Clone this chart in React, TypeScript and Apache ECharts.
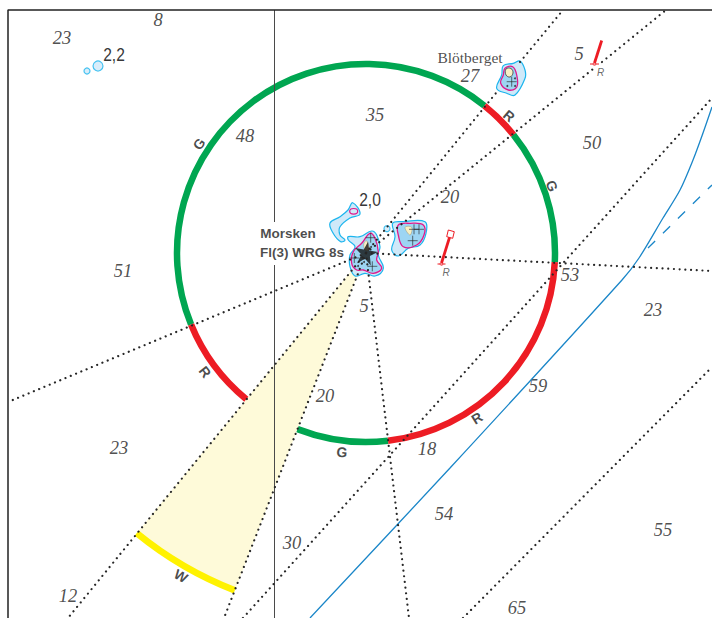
import React, { useEffect, useRef } from "react";
import * as echarts from "echarts";

type P = [number, number];

// chart extent and light position (map units are the page's pixels)
const MAP_W = 712;
const MAP_H = 618;
const LIGHT: P = [366, 253];
const RING_R = 189;
const WHITE_R = 362;

// light sectors: [start bearing, end bearing] in degrees
const greenSectors: P[] = [[157.75, 308.8], [321.25, 362.75], [83.3, 111.25]];
const redSectors: P[] = [[308.8, 321.25], [2.75, 83.3], [129.3, 157.75]];
const whiteSector: P = [111.25, 129.3];

// dotted sector limits and leading lines
const dottedLines: P[][] = [
  [LIGHT, [496, 93]],
  [[520, 62], [563, 10]],
  [LIGHT, [593, 69]],
  [[602, 62], [666, 10]],
  [LIGHT, [712, 271]],
  [LIGHT, [8, 402]],
  [LIGHT, [68, 618]],
  [LIGHT, [224, 618]],
  [LIGHT, [409, 618]],
  [[243, 618], [712, 98]],
  [[463, 618], [712, 367]],
];

const frameLines: P[][] = [
  [[712, 10], [8, 10], [8, 618]],
];
const gridLines: P[][] = [
  [[274.5, 10], [274.5, 222]],
  [[274.5, 265], [274.5, 618]],
];

const depthContour: P[] = [[310, 618], [450, 468], [622, 280], [639, 258], [663, 218], [680, 190], [693, 160], [703, 133], [712, 107]];
const dashedContour: P[] = [[648, 248], [712, 185]];

// islands
const shoalNorth: P[] = [[352.7, 202.7], [360, 214], [350, 218], [340, 226.7], [340, 235], [345, 240], [340.7, 241.7], [333, 233], [330, 223], [340, 216.7], [348, 210]];
const morskenOuter: P[] = [[348.3, 236.7], [360, 236.7], [371.7, 231], [376.7, 235], [380, 246.7], [378.3, 255], [383.3, 268.3], [375, 276], [365, 273.3], [355, 276], [350, 266.7], [350, 255], [355, 246.7], [348.3, 240]];
const morskenInner: P[] = [[353.3, 251.7], [361.7, 243.3], [370, 233.3], [375, 238.3], [378.3, 251.7], [376.7, 260], [381.7, 268.3], [373.3, 273.3], [363.3, 270], [356.7, 270], [351.7, 263.3]];
const eastOuter: P[] = [[392.7, 223.3], [403.3, 221.7], [425, 221.7], [426, 233.3], [420, 245], [408.3, 248.3], [398.3, 256], [391.7, 250], [395, 236.7]];
const eastInner: P[] = [[398.3, 225], [410, 223.3], [423.3, 225], [424, 235], [416.7, 245], [403.3, 246.7], [398.3, 235]];
const eastRock: P[] = [[405, 227.3], [411.7, 227.3], [410, 235]];
const morskenRock: P[] = [[364, 243], [367, 241], [369, 250], [365, 250]];
const blotOuter: P[] = [[520, 61], [525, 70], [525, 78.3], [515, 95], [506.7, 93.3], [496.7, 88.3], [501.7, 75], [503.3, 65.7], [513.3, 63.3]];
const blotInner: P[] = [[505, 68.3], [512.7, 66.7], [516.7, 75], [516.7, 87.3], [508.3, 90], [500.7, 83.3], [503.3, 75]];
const blotRock: P[] = [[506, 69], [511, 68.5], [513, 73], [510, 77], [506, 75]];

const smallShoals: [number, number, number][] = [[98, 66, 10], [87, 71, 6], [387, 228.7, 6]];
const pinkEllipse: P = [353.7, 211.3];
const rockDots: P[] = [[507.3, 86], [515, 86], [515, 78.3], [371, 247], [358, 266], [364, 262]];
const crosses: P[] = [[370.7, 237.7], [354.3, 258], [372.3, 266.3], [414, 229.3], [419, 229.3], [412.7, 240.7], [511.7, 81.7]];

// beacons
const beaconSticks: P[][] = [[[449.5, 237.5], [441.5, 263]], [[601.7, 40.5], [594.5, 63]]];
const beaconBases: P[][] = [[[437.5, 264], [445.5, 264]], [[590, 64], [599, 64]]];
const beaconFeet: P[] = [[441.5, 264], [594.5, 64]];
const beaconTop: P[] = [[448.3, 230], [454.3, 231.7], [452.7, 238.3], [446.7, 236.7]];

// texts
const soundings: [number, number, string][] = [
  [62, 38, "23"], [158, 20, "8"], [245, 136, "48"], [375, 115, "35"], [470, 76, "27"],
  [579, 54, "5"], [592, 143, "50"], [450, 197, "20"], [123, 271, "51"], [570, 275, "53"],
  [364, 306, "5"], [653, 310, "23"], [325, 396, "20"], [538, 386, "59"], [119, 448, "23"],
  [427, 449, "18"], [444, 514, "54"], [663, 530, "55"], [292, 543, "30"], [68, 596, "12"],
  [517, 608, "65"],
];
const drying: [number, number, string][] = [[114, 54, "2,2"], [370, 199, "2,0"]];
const lightLabel: [number, number, string][] = [[288, 233, "Morsken"], [302, 252, "Fl(3) WRG 8s"]];
const placeName: [number, number, string][] = [[470, 57, "Blötberget"]];
const beaconLetters: [number, number, string][] = [[446, 272, "R"], [600.5, 72, "R"]];
const sectorLetters: [number, number, string, number][] = [
  [199, 144, "G", 55], [509, 116, "R", -40], [552, 186, "G", -68], [205, 372, "R", -52],
  [477, 418, "R", 32], [342, 452, "G", -6], [181, 576, "W", -30],
];

const RED = "#ed1c24";
const GREEN = "#00a651";
const YELLOW = "#fff200";
const CYAN = "#1cb5ee";
const PALE = "#cfe9f9";
const MID = "#9dd5f3";
const PINK = "#e0188c";
const ROCK = "#f8f0c4";
const INK = "#262626";
const CONTOUR = "#1a86c8";
const SERIF = "'Liberation Serif', serif";
const SANS = "'Liberation Sans', sans-serif";

const rad = (d: number) => (d * Math.PI) / 180;

const arcSeries = (s: P, color: string, r: number, width: number) => ({
  type: "custom",
  coordinateSystem: "cartesian2d",
  silent: true,
  data: [LIGHT],
  renderItem: (_: any, api: any) => {
    const c = api.coord(LIGHT);
    return {
      type: "arc",
      shape: { cx: c[0], cy: c[1], r: api.size([r, 0])[0], startAngle: rad(s[0]), endAngle: rad(s[1]), clockwise: true },
      style: { stroke: color, lineWidth: width, fill: "none" },
    };
  },
});

const wedgeSeries = (s: P, color: string, r: number) => ({
  type: "custom",
  coordinateSystem: "cartesian2d",
  silent: true,
  data: [LIGHT],
  renderItem: (_: any, api: any) => {
    const c = api.coord(LIGHT);
    return {
      type: "sector",
      shape: { cx: c[0], cy: c[1], r0: 0, r: api.size([r, 0])[0], startAngle: rad(s[0]), endAngle: rad(s[1]), clockwise: true },
      style: { fill: color },
    };
  },
});

const polySeries = (pts: P[], fill: string, stroke: string, width: number, smooth = 0.4) => ({
  type: "custom",
  coordinateSystem: "cartesian2d",
  silent: true,
  data: [pts[0]],
  renderItem: (_: any, api: any) => ({
    type: "polygon",
    shape: { points: pts.map((q) => api.coord(q)), smooth },
    style: { fill, stroke, lineWidth: width },
  }),
});

const ellipseSeries = (c: P, rx: number, ry: number, fill: string, stroke: string, width: number) => ({
  type: "custom",
  coordinateSystem: "cartesian2d",
  silent: true,
  data: [c],
  renderItem: (_: any, api: any) => {
    const p = api.coord(c);
    return {
      type: "ellipse",
      shape: { cx: p[0], cy: p[1], rx, ry },
      style: { fill, stroke, lineWidth: width },
    };
  },
});

const lineSeries = (pts: P[], color: string, width: number, type: any = "solid", cap = "butt", smooth: any = false) => ({
  type: "line",
  data: pts,
  silent: true,
  symbol: "none",
  smooth,
  lineStyle: { color, width, type, cap },
});

const textSeries = (items: any[], font: any) => ({
  type: "scatter",
  silent: true,
  symbol: "circle",
  symbolSize: 1,
  itemStyle: { color: "rgba(0,0,0,0)" },
  data: items.map((d) => ({
    value: [d[0], d[1]],
    label: { formatter: d[2], rotate: d[3] ?? 0 },
  })),
  label: { show: true, position: "inside", align: "center", verticalAlign: "middle", ...font },
});

// condensed sans figures for the drying heights
const narrowTextSeries = (items: [number, number, string][]) => ({
  type: "custom",
  coordinateSystem: "cartesian2d",
  silent: true,
  data: items.map((d) => [d[0], d[1]]),
  renderItem: (params: any, api: any) => {
    const d = items[params.dataIndex];
    const p = api.coord([d[0], d[1]]);
    return {
      type: "text",
      x: p[0],
      y: p[1],
      scaleX: 0.82,
      style: { text: d[2], fontFamily: SANS, fontSize: 19, fill: "#383838", align: "center", verticalAlign: "middle" },
    };
  },
});

export default function App() {
  const ref = useRef<HTMLDivElement>(null);
  useEffect(() => {
    const chart = echarts.init(ref.current!, undefined, { renderer: "svg" });
    const series: any[] = [
      wedgeSeries(whiteSector, "#fefad9", WHITE_R),
      ...gridLines.map((l) => lineSeries(l, "#4a4a4a", 1)),
      lineSeries(depthContour, CONTOUR, 1.3, "solid", "butt", 0.3),
      lineSeries(dashedContour, CONTOUR, 1.3, [10, 11]),
      arcSeries(whiteSector, YELLOW, WHITE_R, 6.5),
      ...greenSectors.map((s) => arcSeries(s, GREEN, RING_R, 6.5)),
      ...redSectors.map((s) => arcSeries(s, RED, RING_R, 6.5)),
      polySeries(shoalNorth, PALE, CYAN, 1.2),
      ellipseSeries(pinkEllipse, 4, 2.8, PALE, PINK, 1.2),
      polySeries(morskenOuter, PALE, CYAN, 1.2),
      polySeries(morskenInner, MID, PINK, 1.3),
      polySeries(eastOuter, PALE, CYAN, 1.2),
      polySeries(eastInner, MID, PINK, 1.3),
      polySeries(blotOuter, PALE, CYAN, 1.2),
      polySeries(blotInner, MID, PINK, 1.3),
      ...dottedLines.map((l) => lineSeries(l, INK, 2.2, [0.01, 5.7], "round")),
      polySeries(blotRock, ROCK, INK, 0.7),
      polySeries(eastRock, ROCK, "#8a8060", 0.4),
      polySeries(morskenRock, ROCK, "#8a8060", 0.4),
      {
        type: "scatter",
        silent: true,
        symbol: "circle",
        data: smallShoals.map((d) => ({ value: [d[0], d[1]], symbolSize: d[2] })),
        itemStyle: { color: PALE, borderColor: CYAN, borderWidth: 1.2 },
      },
      {
        type: "scatter",
        silent: true,
        symbol: "circle",
        symbolSize: 2,
        data: rockDots,
        itemStyle: { color: INK },
      },
      {
        type: "scatter",
        silent: true,
        symbol: "path://M0 5H10M5 0V10",
        symbolSize: 10,
        data: crosses,
        itemStyle: { color: "none", borderColor: "#222", borderWidth: 0.8 },
      },
      {
        type: "scatter",
        silent: true,
        symbol: "path://M50 0L62 35L100 35L69 57L80 95L50 72L20 95L31 57L0 35L38 35Z",
        symbolSize: 23,
        symbolRotate: -10,
        data: [LIGHT],
        itemStyle: { color: "#111111" },
      },
      ...beaconSticks.map((l) => lineSeries(l, RED, 2.8)),
      ...beaconBases.map((l) => lineSeries(l, RED, 1)),
      polySeries(beaconTop, "#ffffff", RED, 1, 0),
      {
        type: "scatter",
        silent: true,
        symbol: "circle",
        symbolSize: 3,
        data: beaconFeet,
        itemStyle: { color: "#ffffff", borderColor: RED, borderWidth: 0.8 },
      },
      ...frameLines.map((l) => lineSeries(l, "#222222", 1.5)),
      textSeries(soundings, { fontFamily: SERIF, fontStyle: "italic", fontSize: 18.5, color: "#222222" }),
      narrowTextSeries(drying),
      textSeries(lightLabel, { fontFamily: SANS, fontWeight: "bold", fontSize: 13.5, color: "#1c1c1c" }),
      textSeries(placeName, { fontFamily: SERIF, fontSize: 15.5, color: "#222222" }),
      textSeries(beaconLetters, { fontFamily: SANS, fontStyle: "italic", fontSize: 10, color: "#444" }),
      textSeries(sectorLetters, { fontFamily: SANS, fontWeight: "bold", fontSize: 14, color: "#1c1c1c" }),
    ];
    chart.setOption({
      animation: false,
      backgroundColor: "#ffffff",
      grid: { left: 0, right: 0, top: 0, bottom: 0 },
      xAxis: { type: "value", min: 0, max: MAP_W, show: false },
      yAxis: { type: "value", min: 0, max: MAP_H, inverse: true, show: false },
      series,
    });
    return () => chart.dispose();
  }, []);
  return <div ref={ref} style={{ position: "absolute", left: 0, top: 0, width: MAP_W, height: MAP_H }} />;
}
